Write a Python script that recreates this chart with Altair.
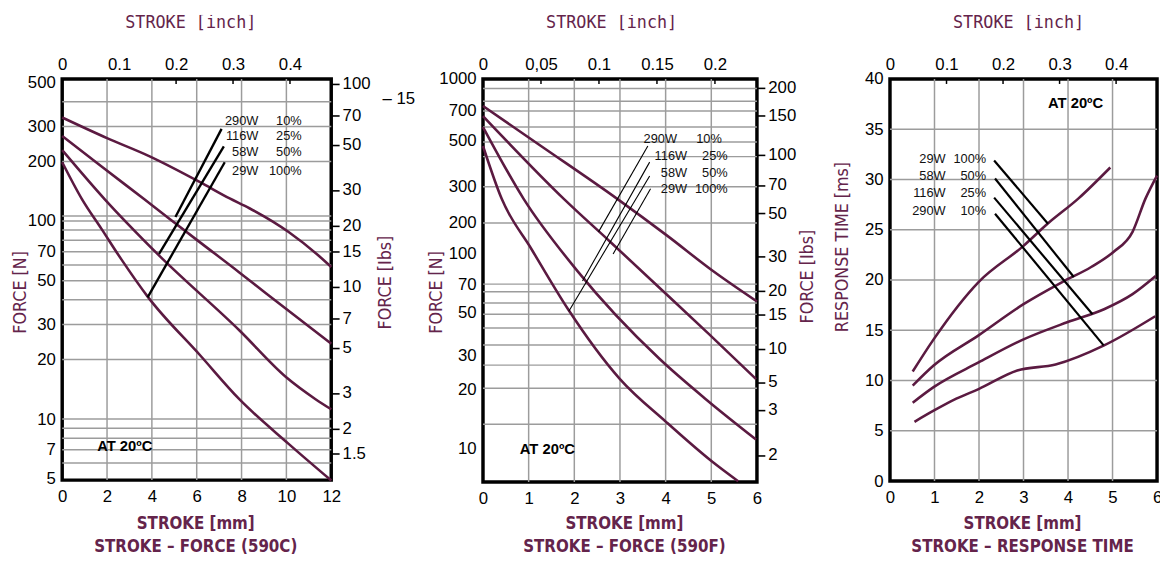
import altair as alt
import pandas as pd

MAROON = "#5b1a41"
TITLE_COLOR = "#64244b"
GRID_COLOR = "#9c9c9c"
NUM_FONT = "Liberation Sans"
TITLE_FONT = "DejaVu Sans Condensed"
MONO_FONT = "DejaVu Sans Mono"

# ======================= Panel 1 : STROKE - FORCE (590C) =======================
P1_X_TICKS = [0, 2, 4, 6, 8, 10, 12]
P1_TOP_LABELS = [0, 0.1, 0.2, 0.3, 0.4]
P1_TOP_TICKS = [0.2, 0.3, 0.4]
P1_LEFT_LABELS = [5, 7, 10, 20, 30, 50, 70, 100, 200, 300, 500]
P1_RIGHT_LABELS = [1.5, 2, 3, 5, 7, 10, 15, 20, 30, 50, 70, 100]
P1_HGRID = [6, 7, 8, 9, 10, 20, 30, 40, 50, 60, 70, 80, 90, 100, 106, 200, 300, 400]
P1_VGRID = [2, 4, 6, 8, 10]

P1_CURVE_NAMES = ["10%", "25%", "50%", "100%"]
P1_CURVE_X = [
    [0, 2, 3.9, 6.15, 7.47, 8.35, 10.1, 11.43, 12],
    [0, 1.8, 3.65, 6.15, 7.9, 9.1, 12],
    [0, 1.89, 4.26, 7.91, 9.98, 11.3, 12],
    [0, 0.88, 1.76, 2.64, 3.82, 6.15, 7.9, 10.1, 12],
]
P1_CURVE_Y = [
    [333, 262, 212, 157, 130, 116, 88, 67, 58.6],
    [269, 187, 129, 78, 55, 43, 24],
    [228, 129, 68, 28, 16.3, 12.6, 11.2],
    [198, 129, 91, 64, 41.4, 21, 12.6, 7.5, 4.9],
]
P1_LINE_X = [[5.05, 7.11], [4.32, 7.21], [3.81, 7.25]]
P1_LINE_Y = [[104.8, 292], [68.2, 238], [41.2, 198]]
P1_LBL_NAMES = ["290W", "116W", "58W", "29W"]
P1_LBL_PCTS = ["10%", "25%", "50%", "100%"]
P1_LBL_NAME_X = [8.75, 8.75, 8.75, 8.75]
P1_LBL_PCT_X = [10.68, 10.68, 10.68, 10.68]
P1_LBL_Y = [320, 269, 223, 179]
P1_AT = (2.79, 7.3)

# ======================= Panel 2 : STROKE - FORCE (590F) =======================
P2_X_TICKS = [0, 1, 2, 3, 4, 5, 6]
P2_TOP_LABELS = [0, 0.05, 0.1, 0.15, 0.2]
P2_TOP_TICKS = [0.05, 0.1, 0.15, 0.2]
P2_LEFT_LABELS = [10, 20, 30, 50, 70, 100, 200, 300, 500, 700, 1000]
P2_RIGHT_LABELS = [2, 3, 5, 10, 15, 20, 30, 50, 70, 100, 150, 200]
P2_HGRID = [13.3, 20.4, 26.8, 34, 41.6, 49, 56, 64, 70, 200, 300, 420, 495, 585, 700, 780, 900]
P2_VGRID = [1, 2, 3, 4, 5]

P2_CURVE_NAMES = ["10%", "25%", "50%", "100%"]
P2_CURVE_X = [
    [0, 1.27, 2.94, 4.04, 5.03, 6],
    [0, 1.77, 2.79, 3.87, 4.95, 5.98],
    [0, 0.89, 2.07, 3.87, 4.88, 5.98],
    [0, 0.41, 1.06, 1.86, 3.0, 4.02, 5.01, 5.59],
]
P2_CURVE_Y = [
    [740, 473, 262, 150, 82, 57],
    [661, 262, 131, 66.9, 38.7, 22.7],
    [585, 262, 81.7, 28.8, 17.9, 11.1],
    [473, 262, 112, 52.1, 22.7, 13.6, 8.57, 6.76],
]
P2_LINE_X = [[2.53, 3.61], [2.18, 3.65], [1.88, 3.65], [2.85, 3.67]]
P2_LINE_Y = [[164, 473], [72.6, 395], [50.8, 338], [100, 293]]
P2_LBL_NAMES = ["290W", "116W", "58W", "29W"]
P2_LBL_PCTS = ["10%", "25%", "50%", "100%"]
P2_LBL_NAME_X = [4.25, 4.47, 4.47, 4.47]
P2_LBL_PCT_X = [5.23, 5.36, 5.36, 5.36]
P2_LBL_Y = [512, 423, 350, 293]
P2_AT = (1.41, 9.9)

# ======================= Panel 3 : STROKE - RESPONSE TIME =======================
P3_X_TICKS = [0, 1, 2, 3, 4, 5, 6]
P3_TOP_LABELS = [0, 0.1, 0.2, 0.3, 0.4]
P3_TOP_TICKS = [0.1, 0.2, 0.3, 0.4]
P3_LEFT_LABELS = [0, 5, 10, 15, 20, 25, 30, 35, 40]
P3_HGRID = [5, 10, 15, 20, 25, 30, 35]
P3_VGRID = [1, 2, 3, 4, 5]

P3_CURVE_NAMES = ["100%", "50%", "25%", "10%"]
P3_CURVE_X = [
    [0.51, 0.98, 1.99, 3.0, 3.54, 4.23, 4.95],
    [0.51, 0.98, 1.99, 3.0, 3.87, 4.52, 5.02, 5.45, 5.74, 6.0],
    [0.51, 0.98, 1.99, 3.0, 3.98, 4.81, 5.45, 5.97],
    [0.55, 0.98, 1.49, 1.99, 2.86, 3.72, 4.81, 5.96],
]
P3_CURVE_Y = [
    [10.9, 14.1, 19.8, 23.4, 25.6, 28.1, 31.2],
    [9.5, 11.5, 14.5, 17.6, 19.8, 21.3, 22.8, 24.8, 28.1, 30.4],
    [7.8, 9.35, 11.8, 14.1, 15.8, 17.1, 18.6, 20.4],
    [5.9, 7.0, 8.2, 9.15, 11.0, 11.6, 13.5, 16.4],
]
P3_LINE_X = [[2.34, 3.55], [2.36, 4.13], [2.34, 4.55], [2.36, 4.80]]
P3_LINE_Y = [[31.9, 25.6], [30.1, 20.3], [28.2, 16.6], [26.6, 13.5]]
P3_LBL_NAMES = ["29W", "58W", "116W", "290W"]
P3_LBL_PCTS = ["100%", "50%", "25%", "10%"]
P3_LBL_NAME_X = [1.25, 1.25, 1.25, 1.25]
P3_LBL_PCT_X = [2.16, 2.16, 2.16, 2.16]
P3_LBL_Y = [32.0, 30.3, 28.7, 26.9]
P3_AT = (4.17, 37.6)


def series_frame(names, xs, ys):
    rows = []
    for n, xv, yv in zip(names, xs, ys):
        for i, (a, b) in enumerate(zip(xv, yv)):
            rows.append({"c": n, "i": i, "x": a, "y": b})
    return pd.DataFrame(rows)


def label_frame(names, pcts, nx, px, ys):
    rows = []
    for n, p, a, b, y in zip(names, pcts, nx, px, ys):
        rows.append({"x": a, "y": y, "t": n})
        rows.append({"x": b, "y": y, "t": p})
    return pd.DataFrame(rows)


COMMON = dict(grid=False, domain=False, labelFont=NUM_FONT, labelFontSize=17,
              labelColor="black", labelOverlap=False)
ONE = pd.DataFrame({"a": [0]})
TOP_EDGE = -65.5


def build_panel(W, H, x_dom, y_scale, x_ticks, y_ticks, y_title, y_tx, y_ty,
                bottom_title, bottom_tx, bottom_ty, top_dom, top_labels, top_ticks, top_expr,
                curves, lines, line_w, labels, at_xy, hgrid, vgrid, ext_l, ext_r,
                right=None, extra_text=None):
    xs = alt.Scale(domain=x_dom, nice=False, zero=False)

    x_axis = alt.Axis(orient="bottom", values=x_ticks, title=bottom_title, ticks=False,
                      tickSize=0, labelPadding=9, labelFlush=False,
                      titleFont=TITLE_FONT, titleFontSize=17, titleFontWeight="bold",
                      titleColor=TITLE_COLOR, titleX=bottom_tx, titleY=bottom_ty,
                      titleAlign="center", titleBaseline="alphabetic", titleLineHeight=23,
                      **COMMON)
    y_axis = alt.Axis(orient="left", values=y_ticks, title=y_title, ticks=False, tickSize=0,
                      labelPadding=7, format="~g", titleFont=TITLE_FONT, titleFontSize=18,
                      titleFontWeight="normal", titleColor=TITLE_COLOR, titleAngle=270,
                      titleX=y_tx, titleY=y_ty, titleAlign="center", titleBaseline="middle",
                      **COMMON)

    def X(f):
        return alt.X(f, type="quantitative", scale=xs, axis=x_axis)

    def Y(f):
        return alt.Y(f, type="quantitative", scale=y_scale, axis=y_axis)

    vg = alt.Chart(pd.DataFrame({"v": vgrid})).mark_rule(color=GRID_COLOR, strokeWidth=1.5).encode(
        x=X("v"), y=alt.value(0), y2=alt.value(H))
    hg = alt.Chart(pd.DataFrame({"v": hgrid})).mark_rule(color=GRID_COLOR, strokeWidth=1.5).encode(
        y=Y("v"), x=alt.value(0), x2=alt.value(W))
    cv = alt.Chart(curves).mark_line(color=MAROON, strokeWidth=2.6, interpolate="monotone").encode(
        x=X("x"), y=Y("y"), detail="c:N", order="i:Q")
    ln = alt.Chart(lines).mark_line(color="black", strokeWidth=line_w).encode(
        x=X("x"), y=Y("y"), detail="c:N", order="i:Q")
    lb = alt.Chart(labels).mark_text(align="right", baseline="middle", font=NUM_FONT,
                                     fontSize=13, color="#111111").encode(
        x=X("x"), y=Y("y"), text="t:N")
    at = alt.Chart(pd.DataFrame({"x": [at_xy[0]], "y": [at_xy[1]], "t": ["AT 20ºC"]})).mark_text(
        align="center", baseline="middle", font=NUM_FONT, fontSize=15, fontWeight="bold",
        color="black").encode(x=X("x"), y=Y("y"), text="t:N")
    bound_top = alt.Chart(ONE).mark_rule(color="white", strokeWidth=1).encode(
        x=alt.value(-ext_l), x2=alt.value(W + ext_r), y=alt.value(TOP_EDGE))
    base_layers = [vg, hg, cv, ln, lb, at, bound_top]
    if extra_text is not None:
        base_layers.append(alt.Chart(ONE).mark_text(
            align="left", baseline="middle", font=NUM_FONT, fontSize=17, color="black").encode(
            x=alt.value(extra_text[0]), y=alt.value(extra_text[1]), text=alt.value(extra_text[2])))
    base = alt.layer(*base_layers)

    top_axis = alt.Axis(orient="top", values=top_labels, title="STROKE [inch]", ticks=False,
                        tickSize=0, labelPadding=6, labelFlush=False, labelExpr=top_expr,
                        titleFont=MONO_FONT, titleFontSize=17, titleFontWeight="normal",
                        titleColor=TITLE_COLOR, titleX=130, titleY=-52, titleAlign="center",
                        titleBaseline="alphabetic", **COMMON)
    top = alt.Chart(pd.DataFrame({"t": top_ticks})).mark_rule(color="black", strokeWidth=1.5).encode(
        x=alt.X("t:Q", scale=alt.Scale(domain=top_dom, nice=False, zero=False), axis=top_axis),
        y=alt.value(0), y2=alt.value(5))

    layers = [base, top]
    if right is not None:
        r_scale, r_ticks, r_tx, r_ty = right
        r_axis = alt.Axis(orient="right", values=r_ticks, title="FORCE [Ibs]", ticks=True,
                          tickSize=8, tickWidth=1.6, tickColor="black", labelPadding=3,
                          format="~g", titleFont=TITLE_FONT, titleFontSize=18,
                          titleFontWeight="normal", titleColor=TITLE_COLOR, titleAngle=270,
                          titleX=r_tx, titleY=r_ty, titleAlign="center", titleBaseline="middle",
                          **COMMON)
        rl = alt.Chart(pd.DataFrame({"r": r_ticks})).mark_point(opacity=0).encode(
            y=alt.Y("r:Q", scale=r_scale, axis=r_axis), x=alt.value(0))
        layers.append(rl)
        res = alt.layer(*layers).resolve_scale(x="independent", y="independent")
    else:
        res = alt.layer(*layers).resolve_scale(x="independent")
    return res.properties(width=W, height=H)


line_names = ["a", "b", "c", "d"]

p1 = build_panel(
    273, 407, [0, 12],
    alt.Scale(type="log", domain=[4.92, 521], nice=False, zero=False),
    P1_X_TICKS, P1_LEFT_LABELS, "FORCE [N]", -42, 216,
    ["STROKE [mm]", "STROKE – FORCE (590C)"], 135, 49,
    [0, 12 / 25.4], P1_TOP_LABELS, P1_TOP_TICKS, "format(datum.value, '~g')",
    series_frame(P1_CURVE_NAMES, P1_CURVE_X, P1_CURVE_Y),
    series_frame(line_names, P1_LINE_X, P1_LINE_Y), 2.4,
    label_frame(P1_LBL_NAMES, P1_LBL_PCTS, P1_LBL_NAME_X, P1_LBL_PCT_X, P1_LBL_Y),
    P1_AT, P1_HGRID, P1_VGRID, 52, 88,
    right=(alt.Scale(type="log", domain=[1.115, 105.8], nice=False, zero=False),
           P1_RIGHT_LABELS, 55, 206),
    extra_text=(325, 20, "– 15"),
)

p2 = build_panel(
    278, 409, [0, 6],
    alt.Scale(type="log", domain=[6.7, 100, 200, 1000], range=[409, 177.6, 146.1, 0],
              nice=False, zero=False),
    P2_X_TICKS, P2_LEFT_LABELS, "FORCE [N]", -47, 216,
    ["STROKE [mm]", "STROKE – FORCE (590F)"], 143, 47,
    [0, 6 / 25.4], P2_TOP_LABELS, P2_TOP_TICKS,
    "datum.value == 0.05 ? '0,05' : format(datum.value, '~g')",
    series_frame(P2_CURVE_NAMES, P2_CURVE_X, P2_CURVE_Y),
    series_frame(line_names, P2_LINE_X, P2_LINE_Y), 1.1,
    label_frame(P2_LBL_NAMES, P2_LBL_PCTS, P2_LBL_NAME_X, P2_LBL_PCT_X, P2_LBL_Y),
    P2_AT, P2_HGRID, P2_VGRID, 60, 66,
    right=(alt.Scale(type="log", domain=[1.568, 2, 3, 5, 10, 100, 200, 219],
                     range=[409, 381.6, 335.9, 307.5, 274.0, 77.1, 9.1, 0],
                     nice=False, zero=False),
           P2_RIGHT_LABELS, 51, 200),
)

p3 = build_panel(
    271, 408, [0, 6],
    alt.Scale(type="linear", domain=[0, 40], nice=False, zero=False),
    P3_X_TICKS, P3_LEFT_LABELS, "RESPONSE TIME [ms]", -48, 170,
    ["STROKE [mm]", "STROKE – RESPONSE TIME"], 134, 48,
    [0, 12 / 25.4], P3_TOP_LABELS, P3_TOP_TICKS, "format(datum.value, '~g')",
    series_frame(P3_CURVE_NAMES, P3_CURVE_X, P3_CURVE_Y),
    series_frame(line_names, P3_LINE_X, P3_LINE_Y), 2.2,
    label_frame(P3_LBL_NAMES, P3_LBL_PCTS, P3_LBL_NAME_X, P3_LBL_PCT_X, P3_LBL_Y),
    P3_AT, P3_HGRID, P3_VGRID, 63, 8,
)

chart = alt.hconcat(p1, p2, p3, spacing=0).properties(
    padding={"left": 0, "top": 0, "right": -8, "bottom": 0}
).configure_view(stroke="black", strokeWidth=3.5)

chart.save("out.html", embed_options={"renderer": "svg", "actions": False})
